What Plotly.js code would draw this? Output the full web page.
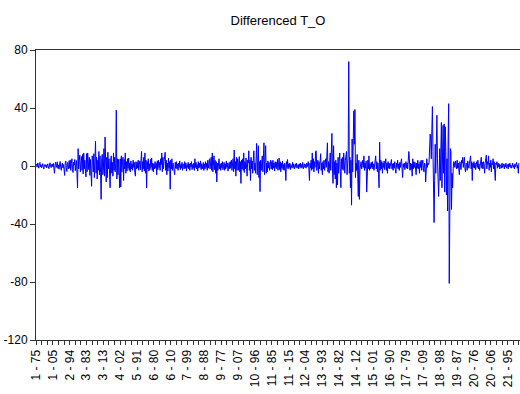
<!DOCTYPE html>
<html>
<head>
<meta charset="utf-8">
<script src="https://cdn.plot.ly/plotly-3.0.1.min.js"></script>
<style>html,body{margin:0;padding:0;background:#fff;}#chart{width:520px;height:394px;}</style>
</head>
<body>
<div id="chart"></div>
<script>
// Tick labels (every 30 observations)
var tickLabels = ["1 - 75","1 - 05","2 - 94","3 - 83","3 - 13","4 - 02","5 - 91","6 - 80","6 - 10","7 - 99",
  "8 - 88","9 - 77","9 - 07","10 - 96","11 - 85","11 - 15","12 - 04","13 - 93","14 - 82","14 - 12",
  "15 - 01","16 - 90","17 - 79","17 - 09","18 - 98","19 - 87","20 - 76","20 - 06","21 - 95"];

// Differenced T_O values
var diffTO = [
0.5,1.2,-0.8,2.1,0.3,-1.5,1.8,2.5,-0.6,0.9,
-1.2,0.4,1.6,-0.9,-2.0,0.7,1.1,-0.4,0.8,-1.3,
0.2,1.5,-0.7,-1.8,0.6,2.2,-0.3,-1.1,0.9,1.4,
-0.5,1.8,-2.4,-5.0,1.2,2.6,-1.0,0.4,2.9,-1.6,
0.8,-2.2,1.5,3.1,-0.9,-3.0,0.6,2.0,-1.4,1.0,
-2.6,-6.5,1.9,3.4,-1.2,-3.8,2.4,0.5,-2.0,3.6,
-1.5,4.2,-3.0,1.8,5.0,-2.5,-4.5,2.8,0.6,4.5,
-3.2,1.4,3.8,-6.0,-15.0,12.0,-2.0,3.5,7.5,-4.0,
2.5,6.5,-3.0,8.0,-5.5,9.0,-2.0,4.0,-3.5,-7.5,
8.5,-4.0,9.0,3.0,-2.5,6.0,-6.5,4.5,-3.0,-14.0,
7.0,5.0,-4.0,8.5,-8.0,3.5,17.0,-5.0,6.0,-9.0,
4.0,-3.0,10.0,-6.0,7.0,-4.5,-23.0,5.0,8.0,-6.0,
-3.0,12.0,-7.0,20.0,-4.0,-11.0,6.0,-8.0,9.5,-2.0,
5.0,-6.0,-15.0,4.0,7.0,-5.0,2.5,-7.0,9.0,-3.0,
6.0,-4.0,2.0,38.6,-9.0,5.0,-6.0,4.5,-3.0,-15.0,
5.0,-14.5,7.0,-4.0,3.0,6.0,-10.0,4.5,-2.0,9.0,
-5.0,3.0,-3.5,5.0,-1.5,5.5,-3.0,2.0,-4.0,3.5,
-2.0,1.5,-3.0,4.0,-1.0,2.5,-4.5,-7.0,3.0,-2.0,
2.5,-1.5,4.0,-3.0,1.0,3.5,-2.5,5.0,10.0,-4.0,
3.0,-2.0,6.0,-3.5,9.0,-5.0,4.0,-15.0,3.0,-2.0,
5.0,-3.5,1.5,-2.5,4.5,-1.0,5.5,-3.0,2.0,-4.0,
1.5,-2.0,3.0,-1.5,2.0,-6.0,3.5,-2.5,4.0,-1.0,
2.5,-3.0,5.0,1.0,9.0,-4.0,6.0,-2.0,3.0,5.0,
9.5,-3.0,4.0,-6.0,2.0,-3.5,5.5,-1.5,3.0,-16.0,
4.0,-2.0,5.0,-3.0,2.0,1.0,-3.5,-6.0,2.5,-1.5,
3.0,-2.0,1.5,-3.0,2.0,-1.0,3.5,-2.5,1.0,-1.5,
2.5,-3.0,1.5,0.5,-2.0,3.0,-1.5,2.0,-3.5,1.0,
-1.0,2.5,-2.0,1.5,-3.0,2.0,-0.5,3.0,-2.5,1.0,
-1.5,2.0,-3.0,5.0,-1.0,2.5,-2.0,1.0,-3.5,3.0,
-1.5,2.0,-1.0,3.5,-2.5,1.5,-2.0,0.5,2.5,-3.0,
1.5,-2.0,3.0,-1.0,2.0,-3.0,4.0,-1.5,2.5,5.0,
-2.0,3.5,6.0,-3.0,9.0,-4.0,2.0,7.0,-2.5,4.0,
-5.0,3.0,-11.0,2.0,-3.0,4.0,5.0,-2.0,1.5,-3.0,
2.0,-1.5,3.0,-2.5,1.0,2.5,-3.0,1.5,-2.0,3.5,
-1.0,2.0,-3.5,1.5,2.5,-2.0,3.0,-1.5,4.0,-3.0,
2.0,5.0,-4.0,11.0,-2.0,3.0,-7.0,6.0,-3.0,5.0,
2.0,-3.0,6.5,-4.0,3.0,-12.0,4.0,-2.0,5.0,-3.0,
9.0,-4.5,3.0,-2.0,5.5,-3.0,-7.0,4.0,2.0,10.5,
-3.0,4.0,-10.0,6.0,-2.0,3.5,-5.0,4.0,10.5,-3.0,
2.0,-5.0,4.0,15.6,-6.0,5.0,14.0,-8.0,3.0,-17.7,
4.0,-3.0,2.0,7.0,-4.0,5.0,16.0,-6.0,3.0,14.0,
-5.0,2.0,-4.0,3.5,-1.5,2.5,-3.0,1.5,4.0,-2.0,
3.0,-2.5,4.0,-1.5,2.0,-3.5,3.0,-1.0,2.5,-2.0,
4.5,-3.0,1.5,5.5,-2.5,3.0,-4.0,2.0,-1.5,3.5,
-2.5,1.0,-3.0,2.0,-1.5,-10.0,3.0,-1.0,4.5,-2.0,
1.5,-1.0,2.0,-2.5,1.0,0.5,-1.5,2.5,-1.0,1.5,
-2.0,0.5,1.5,-1.0,2.0,-1.5,0.5,1.0,-2.0,1.5,
-0.5,2.0,-1.5,1.0,-1.0,2.5,-2.0,0.5,1.5,-1.0,
1.0,-1.5,2.0,-0.5,1.5,3.0,-2.0,-10.0,2.0,-1.5,
4.0,-3.0,9.0,-2.0,5.0,-4.0,3.0,-1.0,10.0,10.5,
-3.0,2.0,4.0,-5.0,3.0,-2.0,6.0,8.5,-3.0,2.0,
-6.0,3.0,-2.0,4.0,-3.0,2.0,5.0,-1.0,7.0,16.0,
-4.0,3.0,-5.0,6.0,9.0,-3.0,5.0,22.5,-2.0,-12.0,
14.0,-6.0,3.0,-9.0,4.0,-15.0,2.0,-13.0,6.0,-5.0,
3.0,9.0,-4.0,-15.0,5.0,-2.0,6.0,-3.0,9.0,2.0,
-5.0,4.0,7.0,10.0,-6.0,3.0,8.0,72.0,-5.0,6.0,
-15.0,4.0,-27.0,18.6,-4.0,10.0,38.0,15.0,39.0,-8.0,
2.0,-3.0,8.0,-6.0,-21.0,4.0,-23.0,-2.0,0.5,3.0,
-2.0,1.5,4.0,-1.0,7.0,-3.0,2.0,-1.5,3.5,-18.0,
2.0,4.0,-2.0,7.0,-3.0,1.5,-2.0,2.5,-1.0,3.0,
-2.0,1.5,-3.0,2.0,4.0,7.0,-2.0,3.0,-4.0,2.0,
-6.0,-15.0,16.5,-3.0,4.0,-2.0,3.0,-5.0,2.0,-1.0,
3.5,-2.5,1.5,5.0,-3.0,2.0,-5.0,3.0,-1.5,2.0,
-2.0,1.0,3.5,4.5,-2.0,1.5,-3.0,2.0,-1.5,3.0,
-2.5,-5.0,2.0,-1.0,4.0,-2.0,1.5,-3.0,2.5,-1.0,
3.0,5.0,-2.0,-8.0,1.5,-1.0,2.0,-2.5,1.0,3.0,
-1.5,2.0,-2.0,3.0,10.0,5.0,-3.0,2.0,-2.5,1.5,
-7.0,5.0,-2.0,3.0,-1.0,2.5,-3.0,-6.0,2.0,-1.5,
4.0,-2.0,1.5,-5.0,3.0,-1.0,4.0,-3.0,2.0,4.0,
-2.0,-4.0,2.0,1.0,-11.0,3.0,5.0,-1.0,2.0,1.0,
2.0,8.0,22.0,18.0,5.0,25.0,41.0,10.0,-20.0,-39.0,
-10.0,15.0,-5.0,20.0,35.0,5.0,-12.0,-21.0,-8.0,12.0,
-10.0,25.0,30.0,-15.0,5.0,28.0,-5.0,29.0,-18.0,27.0,
10.0,-20.0,5.0,-31.0,20.0,43.0,-81.0,-20.0,12.0,10.0,
-30.0,-5.0,-15.0,-2.0,3.0,
2.0,-1.0,3.5,1.0,-2.0,4.0,-1.5,2.0,-3.0,-6.0,
3.0,1.0,-2.5,4.0,2.0,6.0,-1.0,3.0,6.0,-2.0,
-4.0,2.0,1.0,-3.0,3.5,0.5,-1.5,2.0,4.0,7.0,
-2.0,3.0,-10.0,2.0,-1.0,
3.0,-1.5,2.0,-2.5,1.0,3.0,-1.0,4.0,-2.0,1.5,
-3.0,2.0,4.5,6.0,-1.5,2.5,-2.0,3.0,1.0,-5.0,
2.0,4.0,7.5,-2.0,3.0,1.0,7.0,-3.0,2.0,-1.0,
4.0,-4.0,2.0,1.0,5.0,-2.0,3.0,-1.5,-10.0,2.0,
1.0,3.0,-1.5,2.0,-0.5,1.5,-2.0,0.5,1.0,-1.5,
2.0,-1.0,0.5,1.5,-2.0,1.0,-0.5,2.0,-1.5,0.5,
1.0,-2.0,1.5,-0.5,2.0,-1.0,0.5,-1.5,1.0,2.0,
-1.0,0.5,-2.0,1.5,-0.5,1.0,2.5,-1.5,0.5,-5.0,
2.0
];

var obsIndex = diffTO.map(function(_, i){ return i; });

var tickVals = [], tickText = [];
for (var k = 0; k * 10 < diffTO.length; k++) {
  tickVals.push(k * 10);
  tickText.push(k % 3 === 0 && tickLabels[k / 3] ? tickLabels[k / 3] : "");
}

var font = "'Liberation Sans', Arial, sans-serif";

var trace = {
  x: obsIndex,
  y: diffTO,
  type: "scatter",
  mode: "lines",
  line: {color: "#0000ff", width: 1},
  hoverinfo: "skip"
};

var layout = {
  width: 520, height: 394,
  margin: {l: 36, r: 0, t: 50, b: 54, pad: 0},
  paper_bgcolor: "#fff", plot_bgcolor: "#fff",
  showlegend: false,
  font: {family: font, size: 12, color: "#000"},
  title: {text: "Differenced T_O", x: 0.5, xref: "paper", xanchor: "center",
          y: 0.949, yref: "container", yanchor: "middle",
          font: {family: font, size: 13, color: "#000"}},
  xaxis: {
    range: [0, 862], showgrid: false, zeroline: false,
    showline: true, linecolor: "#333", linewidth: 1, mirror: true,
    ticks: "outside", ticklen: 4, tickcolor: "#333", tickwidth: 1,
    tickmode: "array", tickvals: tickVals, ticktext: tickText,
    tickangle: -90, tickfont: {family: font, size: 12, color: "#000"}
  },
  yaxis: {
    range: [-120, 80], showgrid: false, zeroline: false,
    showline: true, linecolor: "#333", linewidth: 1,
    ticks: "outside", ticklen: 5, tickcolor: "#333", tickwidth: 1,
    tickmode: "array", tickvals: [-120, -80, -40, 0, 40, 80],
    ticktext: ["-120", "-80", "-40", "0", "40", "80"],
    tickfont: {family: font, size: 12, color: "#000"}
  }
};

Plotly.newPlot("chart", [trace], layout, {staticPlot: true, displayModeBar: false});
</script>
</body>
</html>
